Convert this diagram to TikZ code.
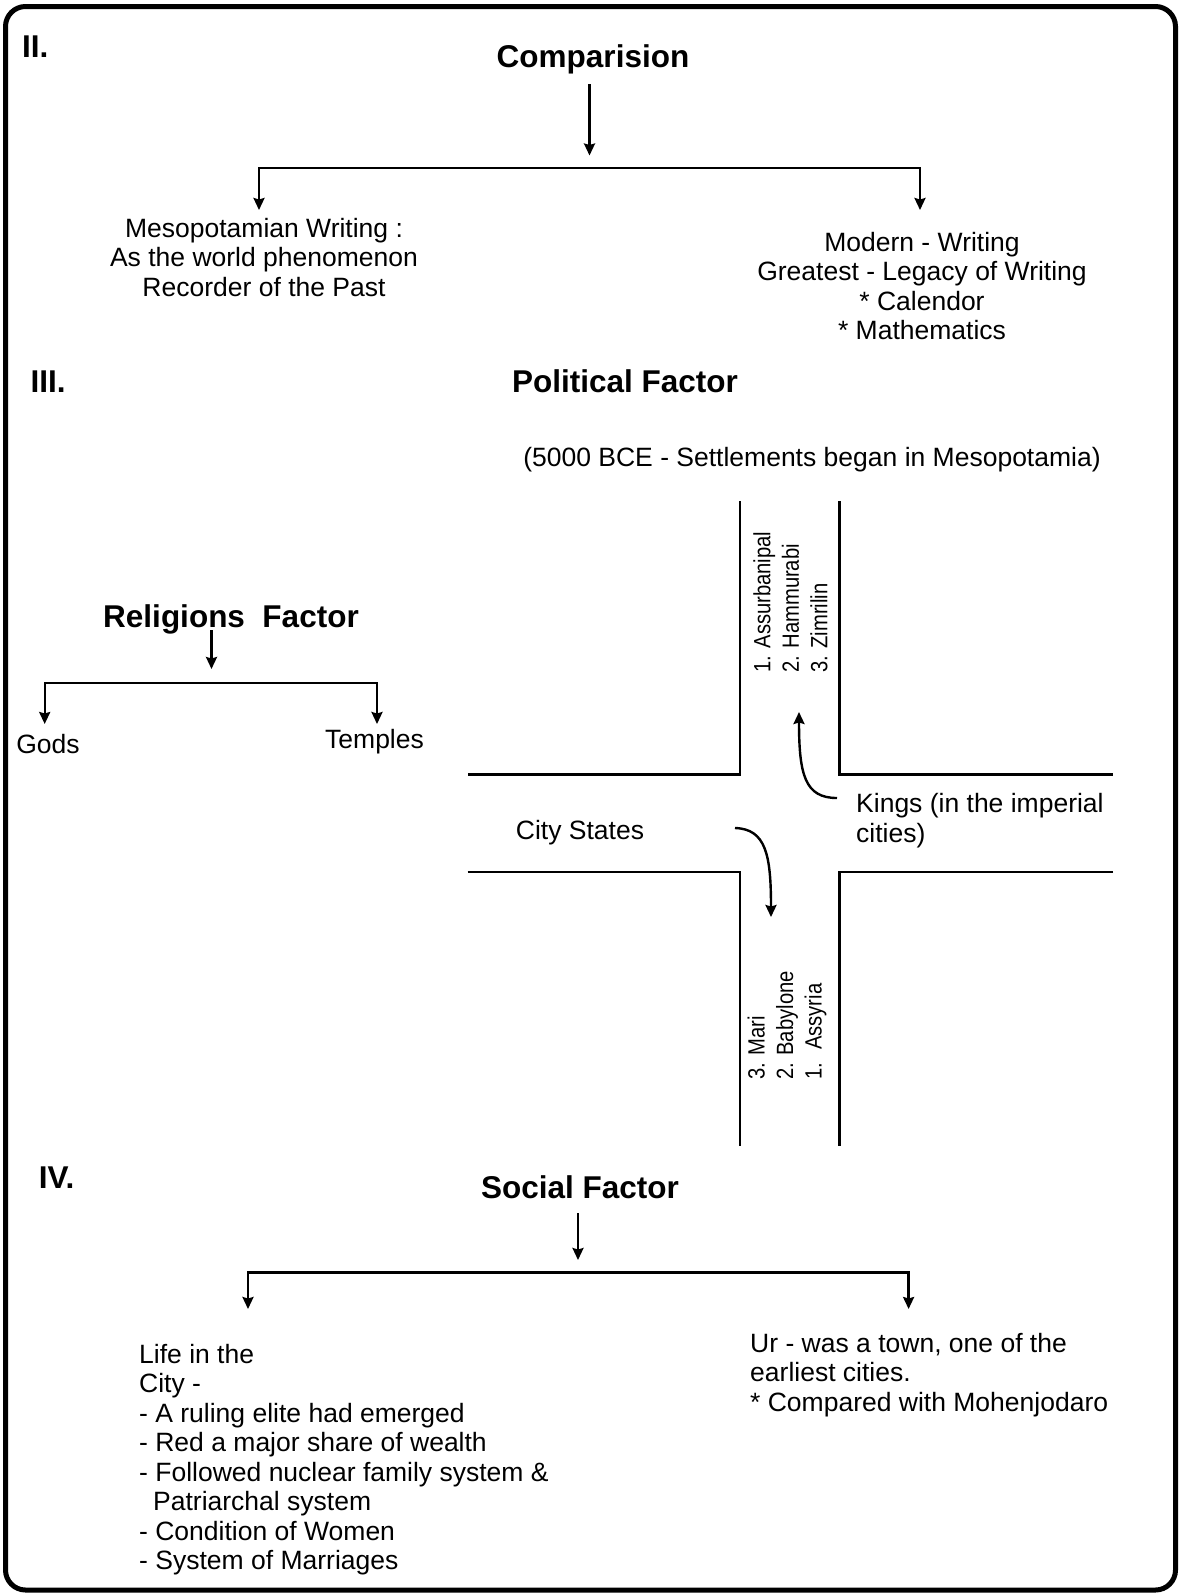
\documentclass[tikz,border=0pt]{standalone}
\usepackage{fontspec}
\setmainfont{Liberation Sans}
\newfontfamily\narrowfont[FakeStretch=0.86]{Liberation Sans}
\usetikzlibrary{arrows.meta}

\begin{document}
\begin{tikzpicture}[x=1pt,y=-1pt,
    txt/.style={inner sep=0pt, font=\fontsize{26.5}{29.5}\selectfont},
    head/.style={inner sep=0pt, font=\fontsize{31.5}{36}\selectfont\bfseries},
    side/.style={inner sep=0pt, rotate=90, anchor=west, align=left,
                 font=\narrowfont\fontsize{23.5}{28.5}\selectfont},
    road/.style={line width=2.8pt},
    conn/.style={line width=2.4pt},
    >={Stealth[length=12pt,width=11pt,inset=1.5pt]}]

    \useasboundingbox (0,0) rectangle (1179,1593);

    % Frame
    \draw[line width=5pt, rounded corners=20pt] (5.5,6.5) rectangle (1175.5,1590);

    % II. Comparision
    \node[head, anchor=west] (secII) at (22,47) {II.};
    \node[head] (comp) at (593,59) {Comparision};
    \node[txt, align=center] (meso) at (264,257.5) {Mesopotamian Writing :\\As the world phenomenon\\Recorder of the Past};
    \node[txt, align=center] (modern) at (922,286) {Modern - Writing\\Greatest - Legacy of Writing\\* Calendor\\* Mathematics};
    \coordinate (compa) at (589.5,84);
    \coordinate (compb) at (589.5,155.5);
    \coordinate (compbar) at (589.5,167.7);
    \coordinate (mesoa) at (259,210);
    \coordinate (moda) at (920,210);
    \draw[conn,->] (compa) -- (compb);
    \draw[conn,<->] (mesoa) |- (compbar) -| (moda);

    % III. Political Factor
    \node[head, anchor=west] (secIII) at (30.5,382) {III.};
    \node[head] (polit) at (625,381) {Political Factor};
    \node[txt] (settle) at (812,460) {(5000 BCE - Settlements began in Mesopotamia)};

    % Religions Factor
    \node[head] (relig) at (231,619) {Religions\ \ Factor};
    \node[txt] (gods) at (48,744) {Gods};
    \node[txt] (temples) at (374.5,742) {Temples};
    \coordinate (religa) at (211.5,630);
    \coordinate (religb) at (211.5,669);
    \coordinate (religbar) at (211.5,683);
    \coordinate (godsa) at (44.7,724);
    \coordinate (templa) at (377,724);
    \draw[conn,->] (religa) -- (religb);
    \draw[conn,<->] (godsa) |- (religbar) -| (templa);

    % Crossroads
    \draw[road] (740,501) -- (740,774.5) -- (467.5,774.5);
    \draw[road] (839.5,501) -- (839.5,774.5) -- (1113,774.5);
    \draw[road] (467.5,872) -- (740,872) -- (740,1145.5);
    \draw[road] (1113,872) -- (839.5,872) -- (839.5,1145.5);

    \node[side] (kingnames) at (790.5,673) {1. Assurbanipal\\2. Hammurabi\\3. Zimrilin};
    \node[side] (citynames) at (787,1080) {3. Mari\\2. Babylone\\1.~ Assyria};
    \node[txt, anchor=west, align=left] (kings) at (856,820.5) {Kings (in the imperial\\cities)};
    \node[txt] (citystates) at (580,833) {City States};

    \coordinate (kingsa) at (837,798);
    \coordinate (kingsb) at (799,712);
    \coordinate (citya) at (735,828);
    \coordinate (cityb) at (771,917);
    \draw[conn,->] (kingsa) .. controls (805,798) and (799,775) .. (kingsb);
    \draw[conn,->] (citya) .. controls (766,829) and (771,855) .. (cityb);

    % IV. Social Factor
    \node[head, anchor=west] (secIV) at (38.6,1178) {IV.};
    \node[head] (social) at (580,1187) {Social Factor};
    \node[txt, anchor=west, align=left] (life) at (139,1459.5) {Life in the\\City -\\- A ruling elite had emerged\\- Red a major share of wealth\\- Followed nuclear family system \&\\\hspace*{14pt}Patriarchal system\\- Condition of Women\\- System of Marriages};
    \node[txt, anchor=west, align=left] (ur) at (750,1375) {Ur - was a town, one of the\\earliest cities.\\* Compared with Mohenjodaro};
    \coordinate (soca) at (578,1213);
    \coordinate (socb) at (578,1260);
    \coordinate (socbar) at (578,1272.5);
    \coordinate (lifea) at (248,1309);
    \coordinate (ura) at (908.6,1309);
    \draw[conn,->] (soca) -- (socb);
    \draw[conn,<->] (lifea) |- (socbar) -| (ura);

\end{tikzpicture}
\end{document}
